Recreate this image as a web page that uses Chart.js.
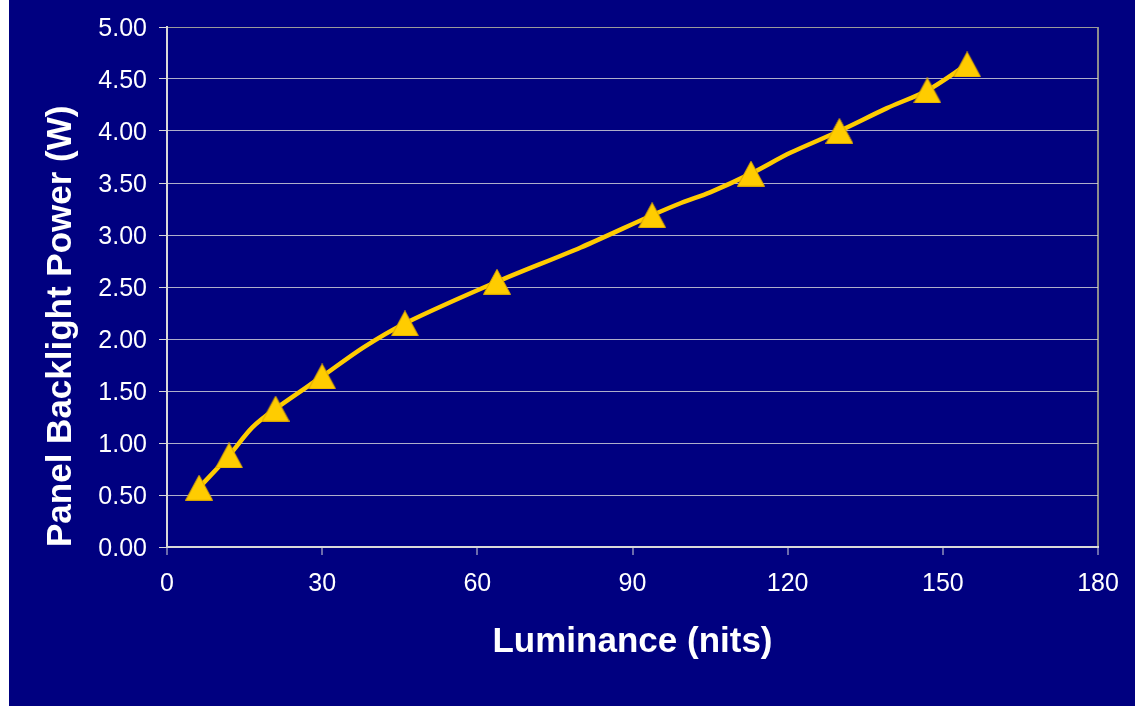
<!DOCTYPE html>
<html>
<head>
<meta charset="utf-8">
<script src="https://cdn.jsdelivr.net/npm/chart.js@4/dist/chart.umd.min.js"></script>
<style>
  html, body { margin: 0; padding: 0; background: #ffffff; width: 1135px; height: 706px; overflow: hidden; }
  #wrap { position: absolute; left: 9px; top: 0; width: 1126px; height: 706px; background: #000080; }
  canvas { display: block; }
</style>
</head>
<body>
<div id="wrap"><canvas id="c" width="1126" height="706"></canvas></div>
<script>
// Curve (luminance in nits, power in W)
const curveLuminance = [6.2, 12.0, 16.5, 21.0, 30.0, 38.0, 46.0, 63.8, 80.0, 93.8, 99.5, 105.0, 112.9, 120.5, 130.0, 139.2, 147.0, 154.7];
const curvePower     = [0.57, 0.88, 1.15, 1.33, 1.64, 1.92, 2.15, 2.55, 2.88, 3.19, 3.31, 3.41, 3.59, 3.79, 4.00, 4.22, 4.39, 4.64];
// Measured points shown with triangle markers
const markerLuminance = [6.2, 12.0, 21.0, 30.0, 46.0, 63.8, 93.8, 112.9, 130.0, 147.0, 154.7];
const markerPower     = [0.57, 0.88, 1.33, 1.64, 2.15, 2.55, 3.19, 3.59, 4.00, 4.39, 4.64];
const xTicks = [0, 30, 60, 90, 120, 150, 180];
const yTicks = [0, 0.5, 1, 1.5, 2, 2.5, 3, 3.5, 4, 4.5, 5];
const xTitle = 'Luminance (nits)';
const yTitle = 'Panel Backlight Power (W)';

// triangle marker image centred on its bounding box (as in the original)
function makeTriangle(w, h) {
  const cv = document.createElement('canvas');
  cv.width = w; cv.height = h;
  const g = cv.getContext('2d');
  g.beginPath();
  g.moveTo(w / 2, 0.5);
  g.lineTo(w - 0.5, h - 0.5);
  g.lineTo(0.5, h - 0.5);
  g.closePath();
  g.fillStyle = '#FFCC00';
  g.fill();
  g.strokeStyle = '#D9A400';
  g.lineWidth = 1;
  g.stroke();
  return cv;
}
const tri = makeTriangle(28, 26);

const FONT = "'Liberation Sans', Arial, sans-serif";

new Chart(document.getElementById('c'), {
  type: 'scatter',
  data: {
    datasets: [
      {
        label: 'curve',
        data: curveLuminance.map((x, i) => ({ x: x, y: curvePower[i] })),
        showLine: true,
        borderColor: '#FFCC00',
        borderWidth: 4.5,
        pointRadius: 0,
        tension: 0.3,
        order: 2
      },
      {
        label: 'markers',
        data: markerLuminance.map((x, i) => ({ x: x, y: markerPower[i] })),
        showLine: false,
        pointStyle: tri,
        pointRadius: 13,
        order: 1
      }
    ]
  },
  options: {
    responsive: false,
    animation: false,
    devicePixelRatio: 1,
    layout: { padding: { left: 0, right: 37, top: 27, bottom: 0 } },
    plugins: { legend: { display: false }, tooltip: { enabled: false } },
    scales: {
      x: {
        type: 'linear',
        min: 0, max: 180,
        afterBuildTicks: (s) => { s.ticks = xTicks.map(v => ({ value: v })); },
        afterFit: (s) => { s.height = 159; },
        border: { display: true, color: '#D8D8D8', width: 2 },
        grid: {
          drawOnChartArea: true,
          color: (ctx) => (ctx.tick && ctx.tick.value === 180) ? '#8C8C8C' : 'rgba(0,0,0,0)',
          lineWidth: 2,
          tickColor: '#D8D8D8',
          tickLength: 8,
          tickWidth: 1
        },
        ticks: {
          color: '#FFFFFF',
          font: { family: FONT, size: 25 },
          padding: 14,
          maxRotation: 0,
          callback: (v) => String(v)
        },
        title: {
          display: true,
          text: xTitle,
          color: '#FFFFFF',
          font: { family: FONT, size: 35, weight: 'bold' },
          padding: { top: 0, bottom: 43 }
        }
      },
      y: {
        type: 'linear',
        min: 0, max: 5,
        afterBuildTicks: (s) => { s.ticks = yTicks.map(v => ({ value: v })); },
        afterFit: (s) => { s.width = 158; },
        border: { display: true, color: '#D8D8D8', width: 2 },
        grid: {
          color: (ctx) => (ctx.tick && ctx.tick.value === 5) ? '#9A9A9A' : 'rgba(205,205,215,0.85)',
          lineWidth: 1,
          tickColor: '#D8D8D8',
          tickLength: 8,
          tickWidth: 1
        },
        ticks: {
          color: '#FFFFFF',
          font: { family: FONT, size: 25 },
          padding: 12,
          labelOffset: 2,
          callback: (v) => Number(v).toFixed(2)
        },
        title: {
          display: true,
          text: yTitle,
          align: 'start',
          color: '#FFFFFF',
          font: { family: FONT, size: 35, weight: 'bold' },
          padding: { top: 31, bottom: 0 }
        }
      }
    }
  }
});
</script>
</body>
</html>
